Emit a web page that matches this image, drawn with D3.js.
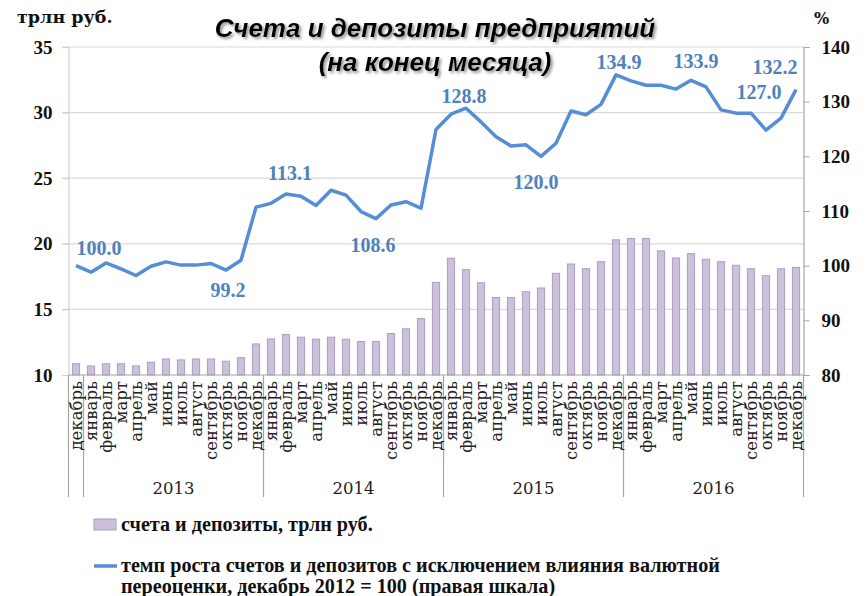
<!DOCTYPE html>
<html>
<head>
<meta charset="utf-8">
<script src="https://cdn.jsdelivr.net/npm/d3@7"></script>
<style>
  body { margin: 0; background: #fff; }
  svg { display: block; }
</style>
</head>
<body>
<div id="chart"></div>
<script>
// data
var firstMonth = "декабрь";
var years = ["2013", "2014", "2015", "2016"];
var monthNames = ["январь", "февраль", "март", "апрель", "май", "июнь",
  "июль", "август", "сентябрь", "октябрь", "ноябрь", "декабрь"];

// счета и депозиты, трлн руб. (дек 2012 .. дек 2016)
var deposits = [10.86, 10.69, 10.86, 10.86, 10.69, 10.97, 11.22, 11.15, 11.22, 11.22, 11.05, 11.32,
  12.37, 12.75, 13.08, 12.88, 12.73, 12.88, 12.73, 12.55, 12.55, 13.16, 13.52, 14.30,
  17.06, 18.90, 18.03, 17.03, 15.91, 15.91, 16.35, 16.63, 17.75, 18.46, 18.10, 18.64,
  20.30, 20.40, 20.40, 19.46, 18.92, 19.25, 18.82, 18.64, 18.36, 18.10, 17.57, 18.10, 18.20];

// темп роста, дек 2012 = 100
var growth = [100.0, 98.8, 100.5, 99.4, 98.2, 99.9, 100.7, 100.1, 100.1, 100.4, 99.2, 101.0,
  110.7, 111.4, 113.1, 112.7, 111.0, 113.8, 112.9, 109.9, 108.6, 111.1, 111.7, 110.5,
  124.9, 127.7, 128.8, 126.3, 123.6, 121.9, 122.1, 120.0, 122.4, 128.3, 127.6, 129.5,
  134.9, 133.8, 133.0, 133.0, 132.3, 133.9, 132.7, 128.5, 127.9, 127.9, 124.8, 127.0, 132.2];

var labelIdx = [0, 10, 14, 20, 26, 31, 36, 41, 47, 48];
var leftTicks = [10, 15, 20, 25, 30, 35];
var rightTicks = [80, 90, 100, 110, 120, 130, 140];

var titleLines = ["Счета и депозиты предприятий", "(на конец месяца)"];
var legendBar = "счета и депозиты, трлн руб.";
var legendLine = ["темп роста счетов и депозитов с исключением влияния валютной",
  "переоценки, декабрь 2012  = 100 (правая шкала)"];

// categories
var cats = [{month: firstMonth, year: null}];
years.forEach(y => monthNames.forEach(m => cats.push({month: m, year: y})));

var W = 866, H = 596;
var pLeft = 68.5, pRight = 803.5, pTop = 47, pBottom = 375;

var svg = d3.select("#chart").append("svg")
  .attr("width", W).attr("height", H);

var defs = svg.append("defs");
var f = defs.append("filter").attr("id", "shadow")
  .attr("x", "-10%").attr("y", "-30%").attr("width", "120%").attr("height", "160%");
f.append("feDropShadow").attr("dx", 2).attr("dy", 2).attr("stdDeviation", 1.4)
  .attr("flood-color", "#777").attr("flood-opacity", 0.8);

var x = d3.scaleBand().domain(d3.range(cats.length)).range([pLeft, pRight]);
var yL = d3.scaleLinear().domain([10, 35]).range([pBottom, pTop]);
var yR = d3.scaleLinear().domain([80, 140]).range([pBottom, pTop]);
var bw = x.bandwidth();

// gridlines
svg.append("g").selectAll("line").data(leftTicks.slice(1)).enter().append("line")
  .attr("x1", pLeft - 6).attr("x2", pRight)
  .attr("y1", d => yL(d)).attr("y2", d => yL(d))
  .attr("stroke", "#d9d9d9").attr("stroke-width", 1.2);

// left axis
var gL = svg.append("g").attr("transform", `translate(${pLeft},0)`)
  .call(d3.axisLeft(yL).tickValues(leftTicks).tickSize(6).tickPadding(10));
gL.select(".domain").attr("stroke", "#d0d0d0").attr("stroke-width", 1.2);
gL.selectAll(".tick line").attr("stroke", "#d0d0d0");
gL.selectAll("text").attr("font-family", "Liberation Serif").attr("font-weight", "bold")
  .attr("font-size", 19).attr("fill", "#111");

// right axis
var gR = svg.append("g").attr("transform", `translate(${pRight},0)`)
  .call(d3.axisRight(yR).tickValues(rightTicks).tickSize(6).tickPadding(12));
gR.select(".domain").attr("stroke", "#a6a6a6").attr("stroke-width", 1.2);
gR.selectAll(".tick line").attr("stroke", "#a6a6a6");
gR.selectAll("text").attr("font-family", "Liberation Serif").attr("font-weight", "bold")
  .attr("font-size", 19).attr("fill", "#111");

// bars
svg.append("g").selectAll("rect").data(deposits).enter().append("rect")
  .attr("x", (d, i) => x(i) + bw * 0.26)
  .attr("width", bw * 0.48)
  .attr("y", d => yL(d))
  .attr("height", d => yL(10) - yL(d))
  .attr("fill", "#ccc1da").attr("stroke", "#ad9cc4").attr("stroke-width", 1);

// category axis
var gX = svg.append("g");
gX.append("line").attr("x1", pLeft).attr("x2", pRight).attr("y1", pBottom).attr("y2", pBottom)
  .attr("stroke", "#a6a6a6").attr("stroke-width", 1.2);
var bounds = [0, 1];
years.forEach((y, k) => bounds.push(1 + (k + 1) * 12));
gX.selectAll("line.sep").data(bounds).enter().append("line").attr("class", "sep")
  .attr("x1", d => d < cats.length ? x(d) : pRight)
  .attr("x2", d => d < cats.length ? x(d) : pRight)
  .attr("y1", pBottom).attr("y2", 497)
  .attr("stroke", "#a6a6a6").attr("stroke-width", 1.2);

gX.selectAll("text.month").data(cats).enter().append("text").attr("class", "month")
  .attr("transform", (d, i) => `translate(${x(i) + bw / 2},381) rotate(-90)`)
  .attr("text-anchor", "end").attr("dy", "0.35em")
  .attr("font-family", "DejaVu Serif").attr("font-size", 16.5).attr("fill", "#222")
  .text(d => d.month);

gX.selectAll("text.year").data(years).enter().append("text").attr("class", "year")
  .attr("x", (d, k) => (x(1 + k * 12) + x(12 + k * 12) + bw) / 2)
  .attr("y", 494)
  .attr("text-anchor", "middle")
  .attr("font-family", "DejaVu Serif").attr("font-size", 16.5).attr("fill", "#222")
  .text(d => d);

// growth line
var line = d3.line().x((d, i) => x(i) + bw / 2).y(d => yR(d));
svg.append("path").datum(growth).attr("d", line)
  .attr("fill", "none").attr("stroke", "#558ed5").attr("stroke-width", 3.5)
  .attr("stroke-linejoin", "round");

// data labels (manually placed, offsets from the point)
var labelOff = {0: [23, -18], 10: [2, 20], 14: [4, -21], 20: [-3, 26], 26: [-2, -12],
  31: [-5, 26], 36: [3, -13], 41: [5, -19], 47: [-22, -26], 48: [-21, -23]};
svg.append("g").selectAll("text").data(labelIdx).enter().append("text")
  .attr("x", i => x(i) + bw / 2 + labelOff[i][0])
  .attr("y", i => yR(growth[i]) + labelOff[i][1])
  .attr("dy", "0.35em").attr("text-anchor", "middle")
  .attr("font-family", "Liberation Serif").attr("font-weight", "bold")
  .attr("font-size", 20).attr("fill", "#4f81bd")
  .text(i => growth[i].toFixed(1));

// units
svg.append("text").attr("x", 17).attr("y", 23)
  .attr("font-family", "DejaVu Serif").attr("font-weight", "bold")
  .attr("font-size", 17.5).attr("fill", "#111").text("трлн руб.");
svg.append("text").attr("x", 814).attr("y", 24)
  .attr("font-family", "DejaVu Serif").attr("font-weight", "bold")
  .attr("font-size", 16).attr("fill", "#111").text("%");

// title
svg.append("g").attr("filter", "url(#shadow)").selectAll("text").data(titleLines).enter()
  .append("text")
  .attr("x", 435).attr("y", (d, i) => 37 + i * 34)
  .attr("text-anchor", "middle")
  .attr("font-family", "Liberation Sans").attr("font-weight", "bold").attr("font-style", "italic")
  .attr("font-size", 26).attr("fill", "#000")
  .text(d => d);

// legend
var lg = svg.append("g");
lg.append("rect").attr("x", 94).attr("y", 519).attr("width", 22).attr("height", 11)
  .attr("fill", "#ccc1da").attr("stroke", "#ad9cc4");
lg.append("line").attr("x1", 94).attr("x2", 117).attr("y1", 566).attr("y2", 566)
  .attr("stroke", "#558ed5").attr("stroke-width", 3.5);
var legTexts = [[legendBar, 524], [legendLine[0], 565], [legendLine[1], 586]];
lg.selectAll("text").data(legTexts).enter().append("text")
  .attr("x", 121).attr("y", d => d[1]).attr("dy", "0.35em")
  .attr("font-family", "Liberation Serif").attr("font-weight", "bold")
  .attr("font-size", 17).attr("fill", "#111")
  .text(d => d[0]);
// fit the long line to the width seen in the picture
var t2 = lg.selectAll("text").filter((d, i) => i === 1).node();
var k = 599 / t2.getComputedTextLength();
lg.selectAll("text").attr("font-size", 17 * k);
</script>
</body>
</html>
